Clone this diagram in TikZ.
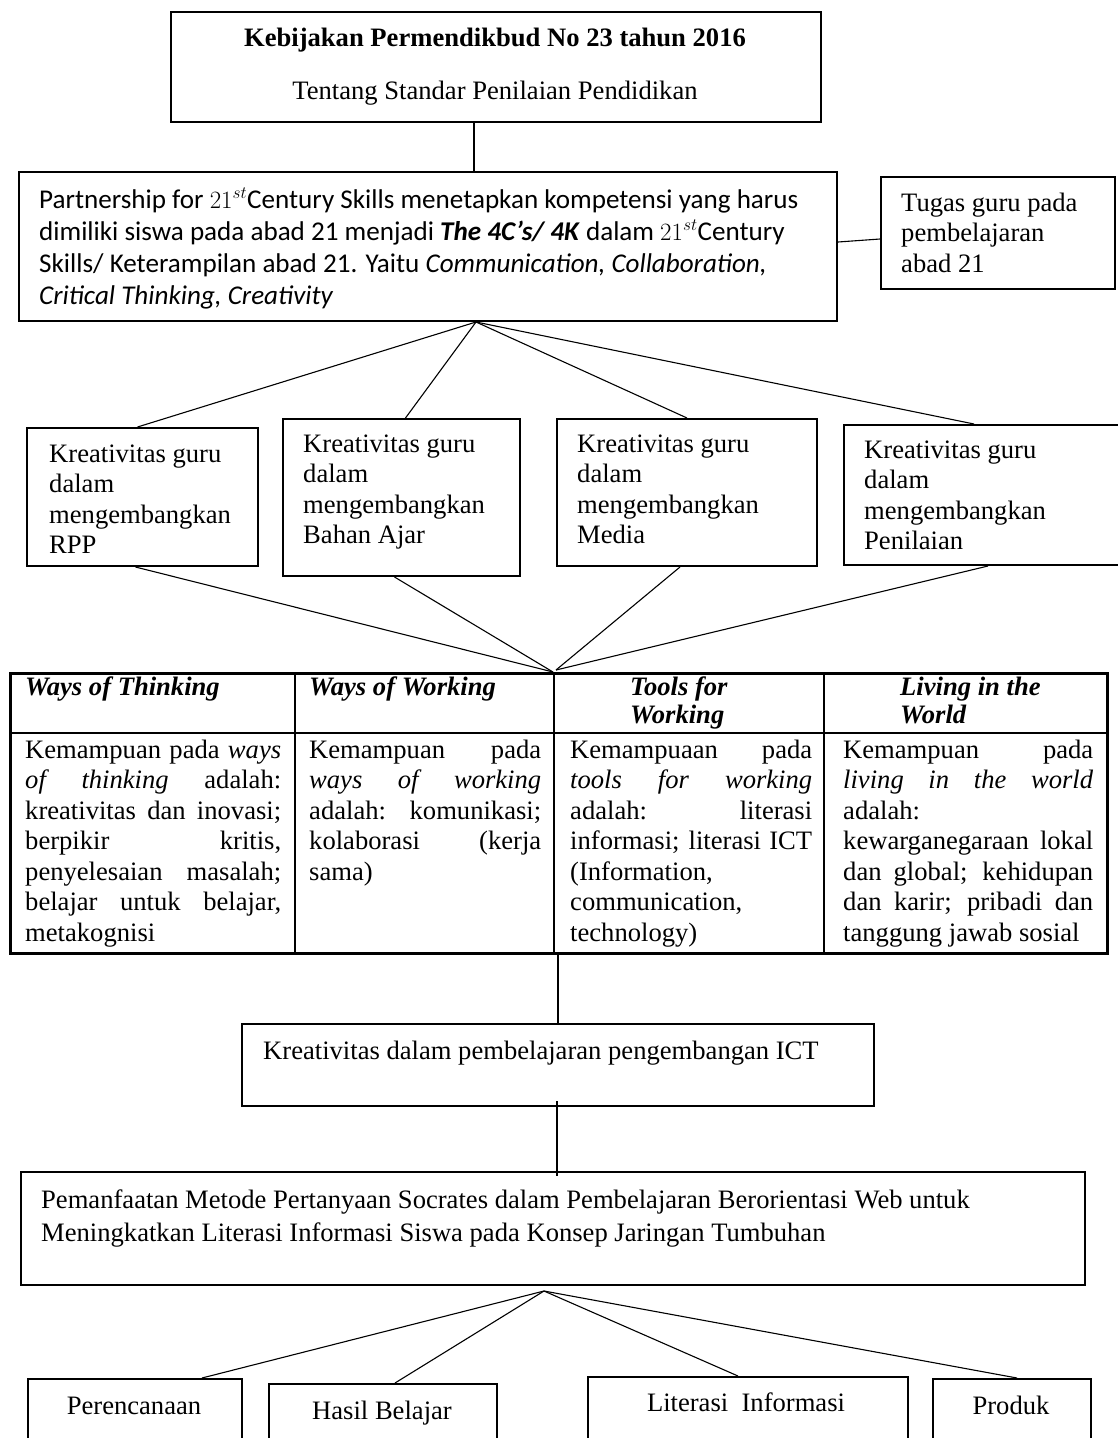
\documentclass[tikz,border=0pt]{standalone}
\usepackage{fontspec}
\setmainfont{Liberation Serif}
\newfontfamily\calib{Carlito}
\usetikzlibrary{calc}
\newcommand\fsz{\fontsize{26.6}{30.5}\selectfont}
\hyphenpenalty=10000
\exhyphenpenalty=10000
\begin{document}
\begin{tikzpicture}[x=1pt,y=-1pt,
  box/.style={draw, line width=2pt, inner sep=0pt, anchor=north west},
  conn/.style={line width=1.1pt},
  txt/.style={inner sep=0pt, anchor=base west, font=\fsz},
  ctxt/.style={inner sep=0pt, anchor=base, font=\fsz},
  hdr/.style={inner sep=0pt, anchor=base west, font=\fontsize{26.6}{28}\selectfont\bfseries\itshape},
]
\useasboundingbox (0,0) rectangle (1118,1438);
\clip (0,0) rectangle (1118,1438);

% top box
\node[box, minimum width=650pt, minimum height=110pt] (b1) at (170,11) {};
\node[ctxt, font=\fsz\bfseries] (t1a) at (495,46) {Kebijakan Permendikbud No 23 tahun 2016};
\node[ctxt] (t1b) at (495,99) {Tentang Standar Penilaian Pendidikan};

% partnership box
\node[box, minimum width=818pt, minimum height=149pt] (b2) at (18,171) {};
\node[txt, font=\calib\fontsize{27.1}{32}\selectfont] (t2) at (39,208) {\parbox[t]{790pt}{\raggedright
Partnership for $21^{st}$Century Skills menetapkan kompetensi yang harus\\
dimiliki siswa pada abad 21 menjadi \textbf{\textit{The 4C’s/ 4K}} dalam $21^{st}$Century\\
Skills/ Keterampilan abad 21. Yaitu \textit{Communication, Collaboration,}\\
\textit{Critical Thinking, Creativity}}};

% tugas box
\node[box, minimum width=234pt, minimum height=112pt] (tg) at (880,176) {};
\node[txt] (ttg) at (901,211) {\parbox[t]{210pt}{\raggedright Tugas guru pada\\ pembelajaran\\ abad 21}};

\draw[conn] ($(b1.south)+(-22,0)$) -- ($(b1.south)+(-22,50)$);
\draw[conn] ($(b2.east)+(0,-4.5)$) -- ($(tg.west)+(0,6)$);

% kreativitas boxes
\node[box, minimum width=231pt, minimum height=138pt] (rpp) at (26,427) {};
\node[box, minimum width=237pt, minimum height=157pt] (ba) at (282,418) {};
\node[box, minimum width=260pt, minimum height=147pt] (md) at (556,418) {};
\node[box, minimum width=280pt, minimum height=140pt] (pn) at (843,424) {};
\node[txt] (trpp) at (49,462) {\parbox[t]{205pt}{\raggedright Kreativitas guru\\ dalam\\ mengembangkan\\ RPP}};
\node[txt] (tba) at (303,452) {\parbox[t]{210pt}{\raggedright Kreativitas guru\\ dalam\\ mengembangkan\\ Bahan Ajar}};
\node[txt] (tmd) at (577,452) {\parbox[t]{230pt}{\raggedright Kreativitas guru\\ dalam\\ mengembangkan\\ Media}};
\node[txt] (tpn) at (864,458) {\parbox[t]{240pt}{\raggedright Kreativitas guru\\ dalam\\ mengembangkan\\ Penilaian}};

\coordinate (j1) at ($(b2.south)+(48,0)$);
\draw[conn] (j1) -- ($(rpp.north)+(-5,0)$);
\draw[conn] (j1) -- ($(ba.north)+(4,0)$);
\draw[conn] (j1) -- (md.north);
\draw[conn] (j1) -- ($(pn.north)+(-10,0)$);

% table
\node[draw, line width=2.5pt, inner sep=0pt, anchor=north west, minimum width=1097pt, minimum height=280pt] (tab) at (9,672) {};
\draw[line width=2pt] (9,733) -- (1106,733);
\draw[line width=2pt] (295,672) -- (295,952);
\draw[line width=2pt] (554,672) -- (554,952);
\draw[line width=2pt] (824,672) -- (824,952);

\coordinate (j2) at ($(tab.north west)+(544,0)$);
\draw[conn] ($(rpp.south)+(-7,0)$) -- (j2);
\draw[conn] ($(ba.south)+(-7,0)$) -- (j2);
\draw[conn] ($(md.south)+(-7,0)$) -- ($(j2)+(3,-2)$);
\draw[conn] ($(pn.south)+(4,0)$) -- ($(j2)+(3,-2)$);

\node[hdr] (h1) at (25,695) {Ways of Thinking};
\node[hdr] (h2) at (309,695) {Ways of Working};
\node[hdr] (h3) at (630,695) {\parbox[t]{180pt}{\raggedright Tools for\\ Working}};
\node[hdr] (h4) at (900,695) {\parbox[t]{200pt}{\raggedright Living in the\\ World}};

\node[txt] (c1) at (25,758) {\parbox[t]{256pt}{\tolerance=10000
Kemampuan pada \textit{ways}\linebreak
\textit{of thinking} adalah:\linebreak
kreativitas dan inovasi;\linebreak
berpikir kritis,\linebreak
penyelesaian masalah;\linebreak
belajar untuk belajar,\linebreak
metakognisi}};
\node[txt] (c2) at (309,758) {\parbox[t]{232pt}{\tolerance=10000
Kemampuan pada\linebreak
\textit{ways of working}\linebreak
adalah: komunikasi;\linebreak
kolaborasi (kerja\linebreak
sama)}};
\node[txt] (c3) at (570,758) {\parbox[t]{242pt}{\tolerance=10000
Kemampuaan pada\linebreak
\textit{tools for working}\linebreak
adalah: literasi\linebreak
informasi; literasi ICT\linebreak
(Information,\linebreak
communication,\linebreak
technology)}};
\node[txt] (c4) at (843,758) {\parbox[t]{250pt}{\tolerance=10000
Kemampuan pada\linebreak
\textit{living in the world}\linebreak
adalah:\linebreak
kewarganegaraan lokal\linebreak
dan global; kehidupan\linebreak
dan karir; pribadi dan\linebreak
tanggung jawab sosial}};

% ICT box
\node[box, minimum width=632pt, minimum height=82pt] (ict) at (241,1023) {};
\node[txt] (tict) at (263,1059) {Kreativitas dalam pembelajaran pengembangan ICT};
\draw[conn] (ict.north |- tab.south) -- (ict.north);

% Socrates box
\node[box, minimum width=1064pt, minimum height=113pt] (soc) at (20,1171) {};
\node[txt, font=\fontsize{26.6}{33}\selectfont] (tsoc) at (41,1208) {\parbox[t]{1030pt}{\raggedright
Pemanfaatan Metode Pertanyaan Socrates dalam Pembelajaran Berorientasi Web untuk\\
Meningkatkan Literasi Informasi Siswa pada Konsep Jaringan Tumbuhan}};
\draw[conn] ($(ict.south)+(-1,-6)$) -- ($(ict.south)+(-1,69)$);

% bottom boxes
\coordinate (j3) at ($(soc.south)+(-9,5)$);
\node[box, minimum width=214pt, minimum height=100pt] (per) at (27,1378) {};
\node[box, minimum width=228pt, minimum height=100pt] (has) at (268,1383) {};
\node[box, minimum width=320pt, minimum height=100pt] (lit) at (587,1376) {};
\node[box, minimum width=158pt, minimum height=100pt] (pro) at (932,1378) {};
\node[ctxt] (tper) at (134,1414) {Perencanaan};
\node[ctxt] (thas) at (382,1419) {Hasil Belajar};
\node[ctxt] (tlit) at (746,1411) {Literasi \ Informasi};
\node[ctxt] (tpro) at (1011,1414) {Produk};
\draw[conn] (j3) -- ($(per.north west)!0.81!(per.north east)$);
\draw[conn] (j3) -- ($(has.north)+(12,0)$);
\draw[conn] (j3) -- ($(lit.north)+(-10,0)$);
\draw[conn] (j3) -- ($(pro.north)+(5,0)$);
\end{tikzpicture}
\end{document}
